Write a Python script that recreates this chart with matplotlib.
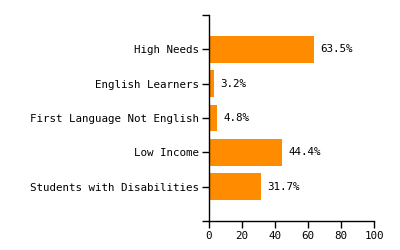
import matplotlib
matplotlib.use('Agg')
import matplotlib.pyplot as plt

categories = ['High Needs', 'English Learners', 'First Language Not English',
              'Low Income', 'Students with Disabilities']
values = [63.5, 3.2, 4.8, 44.4, 31.7]
x_ticks = [0, 20, 40, 60, 80, 100]

plt.rcParams['font.family'] = ['DejaVu Sans Mono']
plt.rcParams['font.size'] = 7.8

fig = plt.figure(figsize=(4, 2.5), dpi=100)
ax = fig.add_axes([0.5225, 0.116, 0.4125, 0.824])

positions = list(range(len(categories), 0, -1))
ax.barh(positions, values, height=0.78, color='#ff8c00')

for pos, val in zip(positions, values):
    ax.text(val + 3.8, pos, '{:.1f}%'.format(val), va='center', ha='left', color='black')

ax.set_xlim(0, 100)
ax.set_ylim(0, len(categories) + 1)
ax.set_xticks(x_ticks)
ax.set_yticks([0] + positions + [len(categories) + 1])
ax.set_yticklabels([''] + categories + [''])

for side in ['top', 'right']:
    ax.spines[side].set_visible(False)
for side in ['left', 'bottom']:
    ax.spines[side].set_linewidth(1)
ax.tick_params(length=5, width=1, pad=2)

fig.savefig('out.png', dpi=100)
